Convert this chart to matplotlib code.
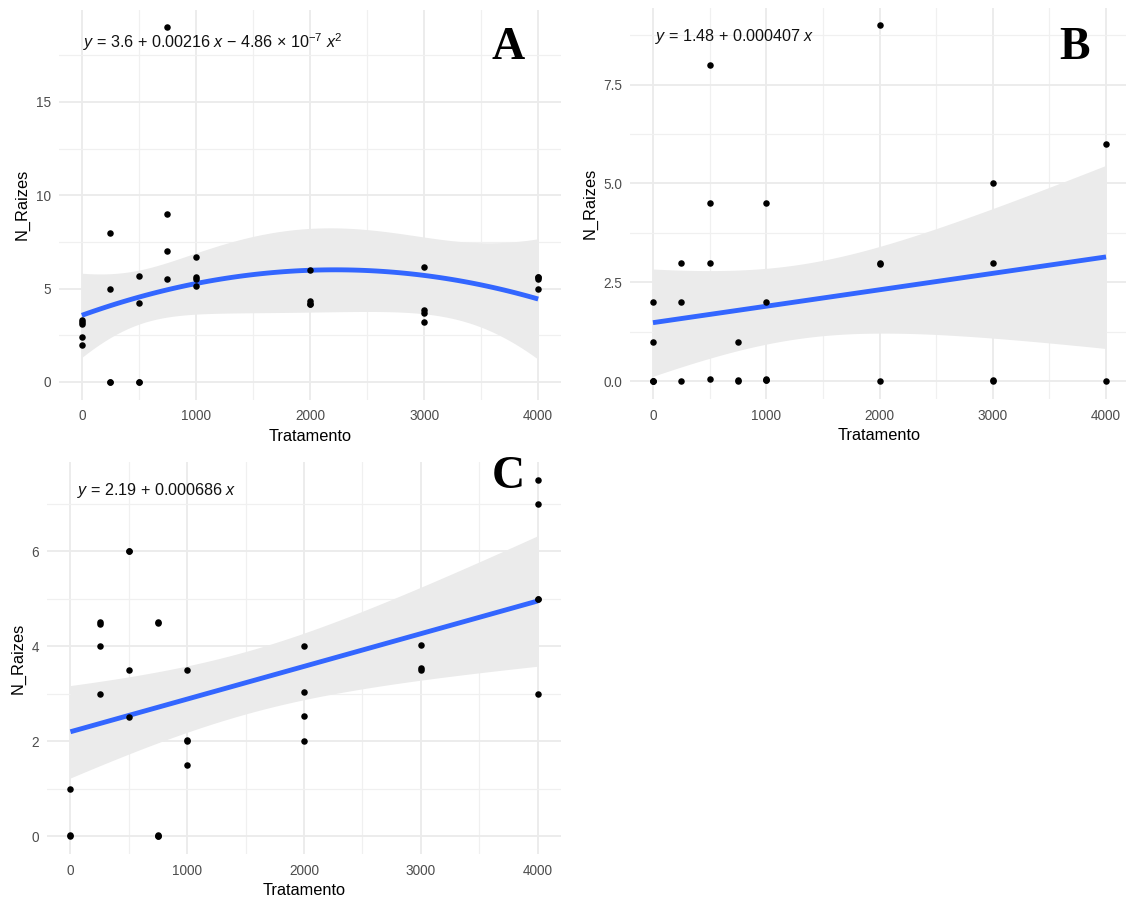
import numpy as np
import matplotlib.pyplot as plt
from matplotlib.ticker import MultipleLocator

# panel A - quadratic fit (some points sit on top of each other)
a_x = [0, 0, 0, 0, 0, 250, 250, 250, 250, 500, 500, 500, 500, 750, 750, 750, 750,
       1000, 1000, 1000, 1000, 2000, 2000, 2000, 2000, 3000, 3000, 3000, 3000,
       4000, 4000, 4000, 4000]
a_y = [3.33, 3.2, 3.1, 2.4, 2.0, 8.0, 5.0, 0.0, 0.0, 5.67, 4.25, 0.0, 0.0, 19.0, 9.0, 7.0, 5.5,
       6.7, 5.6, 5.5, 5.15, 6.0, 4.33, 4.2, 4.2, 6.17, 3.83, 3.7, 3.2,
       5.6, 5.6, 5.5, 5.0]
a_eq = r"$y$ = 3.6 + 0.00216 $x$ − 4.86 × 10$^{-7}$ $x^{2}$"

# panel B - linear fit
b_x = [0, 0, 0, 0, 0, 250, 250, 250, 500, 500, 500, 500, 750, 750, 750,
       1000, 1000, 1000, 1000, 1000, 2000, 2000, 2000, 2000, 3000, 3000, 3000, 3000, 4000, 4000]
b_y = [2, 1, 0, 0, 0, 3, 2, 0, 8, 4.5, 3, 0.04, 1, 0, 0.02,
       4.5, 2, 0.04, 0.02, 0.02, 9, 3, 2.97, 0, 5, 3, 0, 0.02, 6, 0]
b_eq = r"$y$ = 1.48 + 0.000407 $x$"

# panel C - linear fit
c_x = [0, 0, 0, 250, 250, 250, 250, 500, 500, 500, 500, 750, 750, 750, 750, 750,
       1000, 1000, 1000, 1000, 2000, 2000, 2000, 2000, 3000, 3000, 3000,
       4000, 4000, 4000, 4000, 4000]
c_y = [1, 0, 0.03, 4.5, 4.47, 4, 3, 6, 6, 3.5, 2.5, 4.5, 4.48, 0, 0.02, 0,
       3.5, 2, 2.02, 1.5, 4, 3.03, 2.53, 2, 4.03, 3.53, 3.5,
       7.5, 7, 5, 5, 3]
c_eq = r"$y$ = 2.19 + 0.000686 $x$"

x_ticks = [0, 1000, 2000, 3000, 4000]
t_crit = 2.04

plt.rcParams.update({
    "font.family": "Liberation Sans",
    "mathtext.fontset": "custom",
    "mathtext.rm": "Liberation Sans",
    "mathtext.it": "Liberation Sans:italic",
    "mathtext.bf": "Liberation Sans:bold",
})

W, H = 1126, 898
fig = plt.figure(figsize=(W / 100, H / 100), dpi=100)


def box(l, t, r, b):
    return [l / W, 1 - b / H, (r - l) / W, (b - t) / H]


def panel(rect, x, y, deg, ystep, yfmt):
    ax = fig.add_axes(rect)
    x = np.asarray(x, float)
    y = np.asarray(y, float)
    # lm fit + 95% band, like geom_smooth(method="lm")
    X = np.vander(x, deg + 1, increasing=True)
    beta = np.linalg.lstsq(X, y, rcond=None)[0]
    res = y - X @ beta
    s2 = res @ res / (len(x) - deg - 1)
    cov = s2 * np.linalg.inv(X.T @ X)
    xs = np.linspace(x.min(), x.max(), 80)
    Xs = np.vander(xs, deg + 1, increasing=True)
    fit = Xs @ beta
    se = np.sqrt(np.einsum("ij,jk,ik->i", Xs, cov, Xs))
    ax.fill_between(xs, fit - t_crit * se, fit + t_crit * se, color="#EBEBEB", lw=0, zorder=2)
    ax.plot(xs, fit, color="#3366FF", lw=3.5, zorder=3, solid_capstyle="butt")
    ax.scatter(x, y, s=22, color="black", lw=0, zorder=4)

    xr = x.max() - x.min()
    yr = y.max() - y.min()
    ax.set_xlim(x.min() - 0.05 * xr, x.max() + 0.05 * xr)
    ax.set_ylim(y.min() - 0.05 * yr, y.max() + 0.05 * yr)
    ax.set_xticks(x_ticks)
    ax.xaxis.set_minor_locator(MultipleLocator(500))
    ax.yaxis.set_major_locator(MultipleLocator(ystep))
    ax.yaxis.set_minor_locator(MultipleLocator(ystep / 2))
    ax.yaxis.set_major_formatter(yfmt)
    ax.grid(which="major", color="#EBEBEB", lw=1.3, zorder=0)
    ax.grid(which="minor", color="#F0F0F0", lw=0.9, zorder=0)
    ax.set_axisbelow(True)
    for s in ax.spines.values():
        s.set_visible(False)
    ax.tick_params(which="both", length=0, labelsize=9.8, labelcolor="#4D4D4D")
    ax.tick_params(axis="x", pad=7)
    ax.tick_params(axis="y", pad=6)
    ax.set_xlabel("Tratamento", fontsize=11.8, labelpad=4)
    ax.set_ylabel("N_Raizes", fontsize=11.8, labelpad=4)
    return ax


axA = panel(box(59, 9.5, 561, 399.7), a_x, a_y, 2, 5, "{x:.0f}")
axB = panel(box(630.3, 7.7, 1128.7, 398.8), b_x, b_y, 1, 2.5, "{x:.1f}")
axC = panel(box(47.1, 462, 561, 853.9), c_x, c_y, 1, 2, "{x:.0f}")

fig.text(83 / W, 1 - 42 / H, a_eq, fontsize=11.6, ha="left", va="center", color="#111111")
fig.text(655 / W, 1 - 36 / H, b_eq, fontsize=11.6, ha="left", va="center", color="#111111")
fig.text(77 / W, 1 - 491 / H, c_eq, fontsize=11.6, ha="left", va="center", color="#111111")

for lab, px, py in [("A", 508, 59), ("B", 1075, 59), ("C", 508, 488)]:
    fig.text(px / W, 1 - py / H, lab, family="Liberation Serif", weight="bold",
             fontsize=33, ha="center", va="baseline")

fig.savefig("out.png", dpi=100, facecolor="white")
